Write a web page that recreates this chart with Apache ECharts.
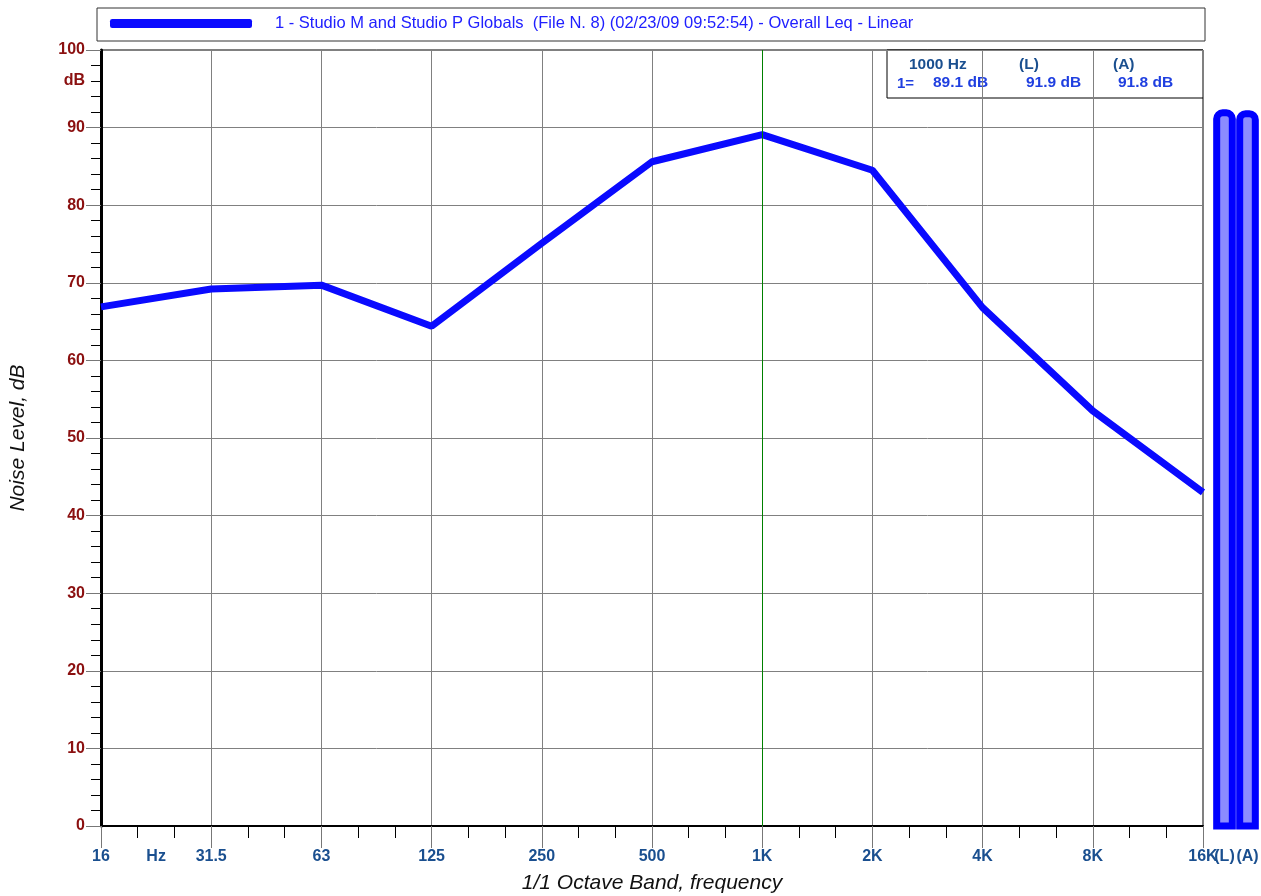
<!DOCTYPE html>
<html><head><meta charset="utf-8">
<script src="https://cdn.jsdelivr.net/npm/echarts@6/dist/echarts.min.js"></script>
<style>html,body{margin:0;padding:0;background:#fff}#c{width:1261px;height:896px}</style>
</head><body><div id="c"></div>
<script>
const bandLabels = ['16','31.5','63','125','250','500','1K','2K','4K','8K','16K'];
const levels = [66.9, 69.2, 69.7, 64.4, 75.1, 85.6, 89.1, 84.5, 66.8, 53.5, 43.0];
const overallLabels = ['(L)','(A)'];
const overallValues = [91.9, 91.8];
const seriesName = '1 - Studio M and Studio P Globals  (File N. 8) (02/23/09 09:52:54) - Overall Leq - Linear';
const markerIndex = 6;

const FONT = 'Arial, "Liberation Sans", sans-serif';
const chart = echarts.init(document.getElementById('c'), null, {renderer:'canvas'});
const lineData = levels.map((v,i)=>[i,v]);
const barData = overallValues.map((v,i)=>[i,v]);

chart.setOption({
  animation:false,
  backgroundColor:'#fff',
  textStyle:{fontFamily:FONT},
  legend:{
    left:105, top:10, itemWidth:142, itemHeight:9, icon:'roundRect',
    textStyle:{color:'#2020ff', fontSize:16.5, fontFamily:FONT, padding:[0,0,0,18]},
    data:[seriesName]
  },
  grid:[
    {left:101, right:58, top:50, bottom:70, show:true, borderColor:'#000', borderWidth:1,
     backgroundColor:'transparent', containLabel:false, outerBoundsMode:'none'},
    {left:1213, width:46, top:50, bottom:70, containLabel:false, outerBoundsMode:'none'}
  ],
  xAxis:[
    {type:'value', gridIndex:0, min:0, max:10, interval:1,
     name:'1/1 Octave Band, frequency', nameLocation:'middle', nameGap:47,
     nameTextStyle:{fontStyle:'italic', fontSize:21, color:'#111', fontFamily:FONT},
     axisLine:{show:true, onZero:false, lineStyle:{color:'#000', width:2}},
     axisTick:{show:true, length:22, lineStyle:{color:'#777', width:1}},
     minorTick:{show:true, splitNumber:3, length:12, lineStyle:{color:'#000', width:1}},
     splitLine:{show:true, lineStyle:{color:'#808080', width:1}},
     axisLabel:{margin:23, fontWeight:'bold', fontSize:16, color:'#1a4f8f', fontFamily:FONT,
       formatter:v=>bandLabels[Math.round(v)]||''}
    },
    {type:'value', gridIndex:0, min:0, max:10, interval:0.5, position:'bottom',
     axisLine:{show:false}, axisTick:{show:false}, splitLine:{show:false},
     axisLabel:{margin:23, fontWeight:'bold', fontSize:16, color:'#1a4f8f', fontFamily:FONT,
       formatter:v=>Math.abs(v-0.5)<1e-6?'Hz':''}
    },
    {type:'category', gridIndex:1, data:overallLabels,
     axisLine:{show:false}, axisTick:{show:false},
     axisLabel:{margin:23, fontWeight:'bold', fontSize:16, color:'#1a4f8f', fontFamily:FONT, interval:0}
    }
  ],
  yAxis:[
    {type:'value', gridIndex:0, min:0, max:100, interval:10,
     name:'Noise Level, dB', nameLocation:'middle', nameGap:72,
     nameTextStyle:{fontStyle:'italic', fontSize:21, color:'#111', fontFamily:FONT},
     axisLine:{show:true, lineStyle:{color:'#000', width:3}},
     axisTick:{show:true, length:15, lineStyle:{color:'#777', width:1}},
     minorTick:{show:true, splitNumber:5, length:10, lineStyle:{color:'#000', width:1}},
     splitLine:{show:true, lineStyle:{color:'#808080', width:1}},
     axisLabel:{margin:16, fontWeight:'bold', fontSize:16, color:'#8b1010', fontFamily:FONT}
    },
    {type:'value', gridIndex:0, min:0, max:100, interval:2, position:'left',
     axisLine:{show:false}, axisTick:{show:false}, splitLine:{show:false},
     axisLabel:{margin:16, fontWeight:'bold', fontSize:16, color:'#8b1010', fontFamily:FONT,
       formatter:v=>v===96?'dB':''}
    },
    {type:'value', gridIndex:1, min:0, max:100, show:false}
  ],
  series:[
    {name:seriesName, type:'line', xAxisIndex:0, yAxisIndex:0, data:lineData,
     showSymbol:false, symbol:'none', lineStyle:{color:'#0a0aff', width:7}, itemStyle:{color:'#0a0aff'},
     z:5,
     markLine:{silent:true, symbol:'none', label:{show:false}, z:10,
       lineStyle:{color:'#008000', width:1, type:'solid'},
       data:[[{coord:[markerIndex,0]},{coord:[markerIndex,100]}]]}
    },
    {name:'overall', type:'custom', xAxisIndex:2, yAxisIndex:2, data:barData,
     renderItem:function(params, api){
       const idx = api.value(0), val = api.value(1);
       const top = api.coord([idx, val]);
       const base = api.coord([idx, 0]);
       const band = api.size([1, 0])[0];
       const w = band * 0.68;
       return {type:'rect',
         shape:{x:top[0]-w/2, y:top[1], width:w, height:base[1]-top[1], r:[6,6,0,0]},
         style:{fill:'#8c8cff', stroke:'#0000ff', lineWidth:7}};
     }
    }
  ],
  graphic:[
    {type:'rect', shape:{x:97, y:8, width:1108, height:33}, style:{fill:'none', stroke:'#333', lineWidth:1}, z:-1},
    {type:'group', z:100, children:[
      {type:'rect', shape:{x:887, y:50, width:316, height:48}, style:{fill:'#fff', stroke:'#000', lineWidth:1}},
      {type:'text', x:909, y:57, style:{text:'1000 Hz', font:'bold 15.5px '+FONT, fill:'#1a4f8f'}},
      {type:'text', x:1019, y:57, style:{text:'(L)', font:'bold 15.5px '+FONT, fill:'#1a4f8f'}},
      {type:'text', x:1113, y:57, style:{text:'(A)', font:'bold 15.5px '+FONT, fill:'#1a4f8f'}},
      {type:'text', x:897, y:76, style:{text:'1=', font:'bold 15px '+FONT, fill:'#1f3fe0'}},
      {type:'text', x:933, y:75, style:{text:'89.1 dB', font:'bold 15.5px '+FONT, fill:'#1f3fe0'}},
      {type:'text', x:1026, y:75, style:{text:'91.9 dB', font:'bold 15.5px '+FONT, fill:'#1f3fe0'}},
      {type:'text', x:1118, y:75, style:{text:'91.8 dB', font:'bold 15.5px '+FONT, fill:'#1f3fe0'}}
    ]}
  ]
});
</script></body></html>
